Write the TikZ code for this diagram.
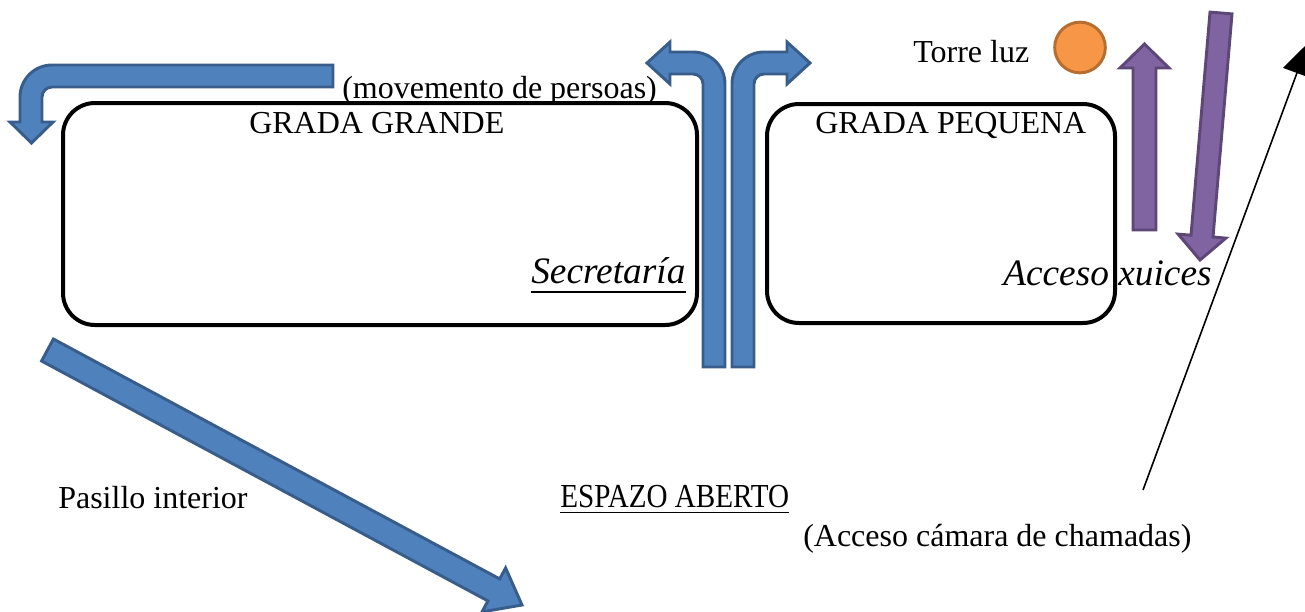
\documentclass[tikz,border=0pt]{standalone}
\usepackage{fontspec}
\setmainfont{Liberation Serif}
\usetikzlibrary{arrows.meta,calc}
\definecolor{bluefill}{HTML}{4F81BD}
\definecolor{blueline}{HTML}{385D8A}
\definecolor{purplefill}{HTML}{8064A2}
\definecolor{purpleline}{HTML}{5C4776}
\definecolor{orangefill}{HTML}{F79646}
\definecolor{orangeline}{HTML}{B66D31}
\tikzset{
  txt/.style={inner sep=0pt,anchor=base west,font=\fontsize{24}{28}\selectfont},
  itxt/.style={txt,font=\fontsize{28}{32}\selectfont\itshape},
  grada/.style={draw=black,line width=3pt,rounded corners=24pt},
  bluearrow/.style={fill=bluefill,draw=blueline,line width=2.2pt,line join=miter},
  purplearrow/.style={fill=purplefill,draw=purpleline,line width=2.2pt,line join=miter},
  ulin/.style={line width=1.3pt}
}
\begin{document}
\begin{tikzpicture}[x=0.75pt,y=-0.75pt]
\useasboundingbox (0,0) rectangle (1305,611);
% boxes
\draw[grada] (63,103) rectangle (697,325);
\draw[grada] (767,104) rectangle (1115,323);
% texts
\node[txt] (gg) at (249,133) {GRADA GRANDE};
\node[txt] (mov) at (342,98) {(movemento de persoas)};
\node[txt] (gp) at (815,133) {GRADA PEQUENA};
\node[itxt] (sec) at (531,283) {Secretaría};
\node[itxt] (acc) at (1003,285) {Acceso xuices};
\node[txt] (torre) at (913,62) {Torre luz};
\node[txt] (pas) at (58,508) {Pasillo interior};
\node[txt] (esp) at (560,507) {\scalebox{0.91}[1.05]{ESPAZO ABERTO}};
\node[txt] (cam) at (803,546) {(Acceso cámara de chamadas)};
\draw[ulin] ($(sec.base west)+(0,9)$) -- ($(sec.base east)+(0,9)$);
\draw[ulin] ($(esp.base west)+(0,5.5)$) -- ($(esp.base east)+(0,5.5)$);
% top-left bent arrow
\draw[bluearrow] (333,65) -- (52,65) .. controls (34.3,65) and (20,79.3) .. (20,97)
  -- (20,122) -- (10,122) -- (31.5,143) -- (53,122) -- (42,122) -- (42,97)
  .. controls (42,91.5) and (46.5,87) .. (52,87) -- (333,87) -- cycle;
% middle left arrow
\draw[bluearrow] (703,367) -- (703,84) .. controls (703,78.5) and (698.5,74) .. (693,74)
  -- (670,74) -- (670,84) -- (647,63) -- (670,42) -- (670,52) -- (693,52)
  .. controls (710.7,52) and (725,66.3) .. (725,84) -- (725,367) -- cycle;
% middle right arrow
\draw[bluearrow] (754,367) -- (754,84) .. controls (754,78.5) and (758.5,74) .. (764,74)
  -- (787,74) -- (787,84) -- (810,63) -- (787,42) -- (787,52) -- (764,52)
  .. controls (746.3,52) and (732,66.3) .. (732,84) -- (732,367) -- cycle;
% diagonal arrow
\draw[bluearrow] (41.6,361.0) -- (53.4,339.0) -- (499.7,578.9) -- (505.6,567.9)
  -- (522,605) -- (482.0,611.9) -- (487.9,600.9) -- cycle;
% orange circle
\node[circle,fill=orangefill,draw=orangeline,line width=2.2pt,minimum size=38pt,inner sep=0pt] (luz) at (1080,47.5) {};
% purple arrows
\draw[purplearrow] (1133,230) -- (1133,68) -- (1120,68) -- (1144.5,44) -- (1169,68)
  -- (1156,68) -- (1156,230) -- cycle;
\draw[purplearrow] (1210.0,12.1) -- (1232.0,13.9) -- (1213.0,237.0) -- (1225.9,238.1)
  -- (1200,260) -- (1178.1,234.1) -- (1191.0,235.2) -- cycle;
% thin arrow
\coordinate (camtop) at (1143,490);
\coordinate (camend) at (1308,43);
\draw[line width=1.2pt,-{Triangle[length=24pt,width=22pt]}] (camtop) -- (camend);
\end{tikzpicture}
\end{document}
